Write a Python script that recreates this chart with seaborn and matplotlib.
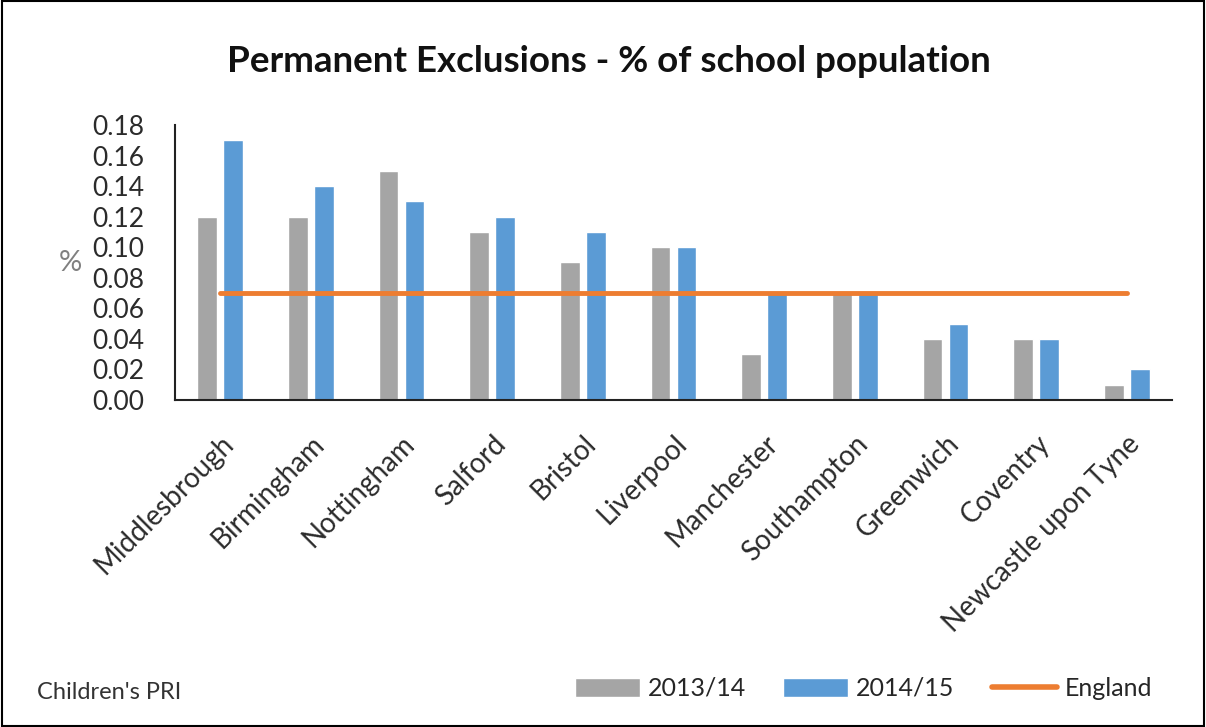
import matplotlib.pyplot as plt
import pandas as pd
import seaborn as sns
from matplotlib.patches import Rectangle, Patch
from matplotlib.lines import Line2D
from matplotlib.transforms import ScaledTranslation

areas = ['Middlesbrough', 'Birmingham', 'Nottingham', 'Salford', 'Bristol',
         'Liverpool', 'Manchester', 'Southampton', 'Greenwich', 'Coventry',
         'Newcastle upon Tyne']
y2013 = [0.12, 0.12, 0.15, 0.11, 0.09, 0.10, 0.03, 0.07, 0.04, 0.04, 0.01]
y2014 = [0.17, 0.14, 0.13, 0.12, 0.11, 0.10, 0.07, 0.07, 0.05, 0.04, 0.02]
england = [0.07] * len(areas)
years = ['2013/14', '2014/15']
yticks = [0.00, 0.02, 0.04, 0.06, 0.08, 0.10, 0.12, 0.14, 0.16, 0.18]

df = pd.DataFrame({
    'Area': areas * 2,
    'Value': y2013 + y2014,
    'Year': [years[0]] * len(areas) + [years[1]] * len(areas),
})

sns.set_style('white')
plt.rcParams['font.family'] = ['Lato', 'DejaVu Sans']

colors = {'2013/14': '#A5A5A5', '2014/15': '#5B9BD5'}
orange = '#ED7D31'
text_col = '#2b2b2b'

fig = plt.figure(figsize=(12.06, 7.27), dpi=100)
ax = fig.add_axes([0.145, 0.450, 0.827, 0.378])

sns.barplot(data=df, x='Area', y='Value', hue='Year', palette=colors,
            width=0.574, gap=0.25, ax=ax, legend=False, saturation=1)
ax.plot(range(len(areas)), england, color=orange, lw=3.5, solid_capstyle='round')

ax.set_ylim(0, 0.18)
ax.set_xlim(-0.5, len(areas) - 0.5)
ax.set_yticks(yticks)
ax.set_yticklabels([f'{v:.2f}' for v in yticks], fontsize=19, color=text_col)
ax.set_xticks(range(len(areas)))
ax.set_xticklabels(areas, rotation=45, ha='right', rotation_mode='anchor',
                   fontsize=20, color=text_col)
shift = ScaledTranslation(-0.07, 0, fig.dpi_scale_trans)
for lbl in ax.get_xticklabels():
    lbl.set_transform(lbl.get_transform() + shift)
ax.tick_params(axis='both', length=0)
ax.tick_params(axis='y', pad=22)
ax.tick_params(axis='x', pad=22)
ax.set_xlabel('')
ax.set_ylabel('%', rotation=0, fontsize=21, color='#808080')
ax.yaxis.set_label_coords(-0.105, 0.45)
for s in ['top', 'right']:
    ax.spines[s].set_visible(False)
for s in ['left', 'bottom']:
    ax.spines[s].set_color('#222222')
    ax.spines[s].set_linewidth(1.5)

fig.text(0.505, 0.915, 'Permanent Exclusions - % of school population',
         ha='center', va='center', fontsize=26.5, fontweight='bold', color='#111111')
fig.text(0.031, 0.047, "Children's PRI", ha='left', va='center',
         fontsize=17, color='#333333')

handles = [Patch(facecolor=colors[y], label=y) for y in years]
handles.append(Line2D([0], [0], color=orange, lw=4, label='England'))
fig.legend(handles=handles, loc='center', bbox_to_anchor=(0.716, 0.053), ncol=3,
           frameon=False, fontsize=18, handlelength=2.6, handleheight=0.8,
           handletextpad=0.3, columnspacing=1.5)

fig.add_artist(Rectangle((0.002, 0.002), 0.996, 0.996, transform=fig.transFigure,
                         fill=False, edgecolor='black', linewidth=1.5))

fig.savefig('out.png', dpi=100)
